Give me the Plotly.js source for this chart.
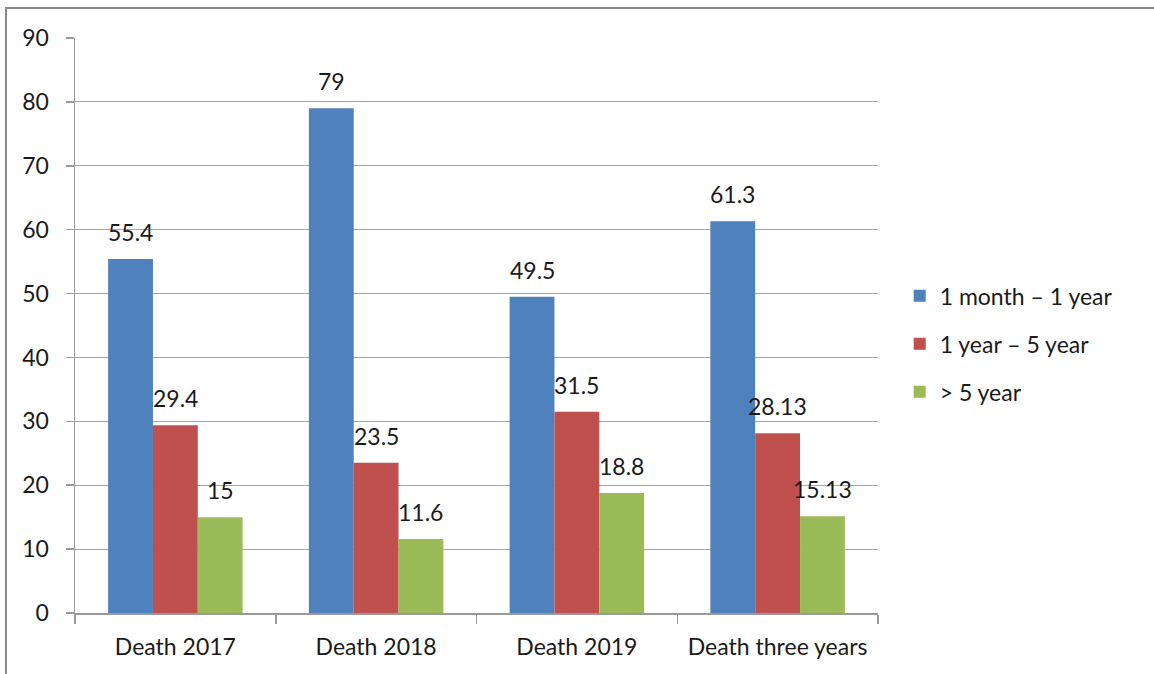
<!DOCTYPE html>
<html>
<head>
<meta charset="utf-8">
<script src="https://cdn.plot.ly/plotly-3.0.1.min.js"></script>
<style>
  html, body { margin: 0; padding: 0; background: #fff; }
  #wrap { position: relative; width: 1154px; height: 674px; overflow: hidden; }
  #chart { position: absolute; left: 0; top: 0; width: 1154px; height: 674px; }
  #frame { position: absolute; left: 5px; top: 7px; width: 1200px; height: 700px;
           border-left: 2px solid #8a8a8a; border-top: 2px solid #8a8a8a; pointer-events: none; }
</style>
</head>
<body>
<div id="wrap">
  <div id="chart"></div>
  <div id="frame"></div>
</div>
<script>
const categories = ["Death 2017", "Death 2018", "Death 2019", "Death three years"];
const seriesNames = ["1 month \u2013 1 year", "1 year \u2013 5 year", "> 5 year"];
const monthToYear = [55.4, 79, 49.5, 61.3];
const yearToFive = [29.4, 23.5, 31.5, 28.13];
const overFive = [15, 11.6, 18.8, 15.13];
const labelsMonthToYear = ["55.4", "79", "49.5", "61.3"];
const labelsYearToFive = ["29.4", "23.5", "31.5", "28.13"];
const labelsOverFive = ["15", "11.6", "18.8", "15.13"];
const yTicks = [0, 10, 20, 30, 40, 50, 60, 70, 80, 90];

const colors = ["#4F81BD", "#C0504D", "#9BBB59"];
const allValues = [monthToYear, yearToFive, overFive];
const allLabels = [labelsMonthToYear, labelsYearToFive, labelsOverFive];
const FONT = "Lato, 'Open Sans', sans-serif";
const FS = 23;

const traces = allValues.map((vals, i) => ({
  type: "bar",
  name: seriesNames[i],
  x: categories,
  y: vals,
  marker: { color: colors[i], line: { width: 0 } },
  legendgroup: "g" + i,
  hoverinfo: "x+y+name"
}));

const W = 1154, mL = 75, mR = 276;
const catWidth = (W - mL - mR) / categories.length;
const bargap = 0.33;
const barW = catWidth * (1 - bargap) / 3;

const annotations = [];
allValues.forEach((vals, i) => {
  vals.forEach((v, j) => {
    annotations.push({
      x: categories[j], y: v, xref: "x", yref: "y",
      text: allLabels[i][j], showarrow: false,
      xshift: (i - 1) * barW, yshift: 27,
      xanchor: "center", yanchor: "middle",
      font: { family: FONT, size: FS, color: "#1a1a1a" }
    });
  });
});

const layout = {
  width: 1154, height: 674,
  margin: { l: mL, r: mR, t: 38, b: 61, pad: 0 },
  paper_bgcolor: "#ffffff", plot_bgcolor: "#ffffff",
  barmode: "group", bargap: bargap, bargroupgap: 0,
  font: { family: FONT, size: FS, color: "#1a1a1a" },
  showlegend: true,
  legend: {
    x: 1.027, xanchor: "left", y: 0.468, yanchor: "middle",
    traceorder: "grouped", tracegroupgap: 15,
    font: { family: FONT, size: FS, color: "#1a1a1a" },
    itemwidth: 30, bgcolor: "rgba(0,0,0,0)"
  },
  xaxis: {
    type: "category",
    showline: true, linecolor: "#9a9a9a", linewidth: 1.5,
    ticks: "outside", tickson: "boundaries", ticklen: 9, tickcolor: "#9a9a9a", tickwidth: 1.5,
    ticklabelstandoff: 13,
    showgrid: false, zeroline: false,
    tickfont: { family: FONT, size: FS, color: "#1a1a1a" }
  },
  yaxis: {
    range: [0, 90], tickvals: yTicks, ticktext: yTicks.map(String),
    showline: true, linecolor: "#9a9a9a", linewidth: 1.5,
    ticks: "outside", ticklen: 8, tickcolor: "#9a9a9a", tickwidth: 1.5,
    ticklabelstandoff: 12,
    showgrid: true, gridcolor: "#a6a6a6", gridwidth: 1.2,
    zeroline: false,
    tickfont: { family: FONT, size: FS, color: "#1a1a1a" }
  },
  annotations: annotations
};

Plotly.newPlot("chart", traces, layout, { displayModeBar: false, staticPlot: true });
</script>
</body>
</html>
